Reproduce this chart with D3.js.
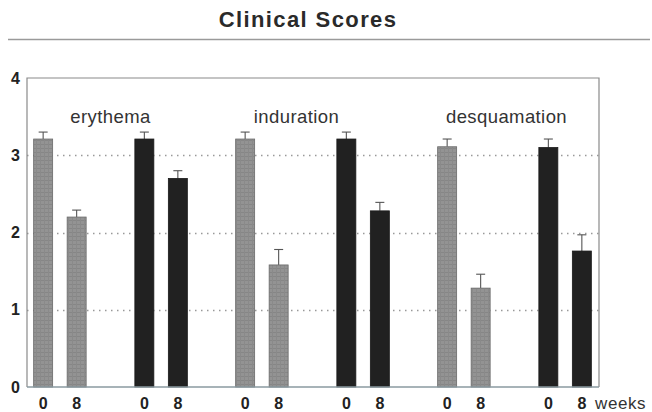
<!DOCTYPE html>
<html>
<head>
<meta charset="utf-8">
<script src="https://cdn.jsdelivr.net/npm/d3@7"></script>
<style>
  html, body { margin: 0; padding: 0; background: #fff; }
  svg { display: block; font-family: "Liberation Sans", Arial, Helvetica, sans-serif; }
</style>
</head>
<body>
<svg id="chart" width="652" height="412"></svg>
<script>
// ---- data ----
const categories = ["erythema", "induration", "desquamation"];
const treatments = ["A", "B"];          // grey bars, black bars
const weeks = ["0", "8"];
const yTicks = [0, 1, 2, 3, 4];
const title = "Clinical Scores";
const weeksLabel = "weeks";

// mean scores per category (erythema, induration, desquamation)
const meansA0 = [3.21, 3.21, 3.11];
const meansA8 = [2.20, 1.58, 1.28];
const meansB0 = [3.21, 3.21, 3.10];
const meansB8 = [2.70, 2.28, 1.76];
// error (upper whisker length)
const errA0 = [0.09, 0.09, 0.10];
const errA8 = [0.09, 0.20, 0.18];
const errB0 = [0.09, 0.09, 0.11];
const errB8 = [0.10, 0.11, 0.21];

// ---- build records ----
const meanTable = { A: { "0": meansA0, "8": meansA8 }, B: { "0": meansB0, "8": meansB8 } };
const errTable  = { A: { "0": errA0,   "8": errA8   }, B: { "0": errB0,   "8": errB8   } };
const records = [];
categories.forEach((c, i) => treatments.forEach(t => weeks.forEach(w => {
  records.push({ cat: c, trt: t, week: w, mean: meanTable[t][w][i], err: errTable[t][w][i] });
})));

// ---- layout ----
const svg = d3.select("#chart");
const plot = { left: 27, right: 599, top: 78, bottom: 387 };

const y = d3.scaleLinear().domain([0, 4]).range([plot.bottom, plot.top]);
const xGroup = d3.scalePoint().domain(categories).range([110.5, 514.5]);
const xTrt = d3.scalePoint().domain(treatments).range([-50.6, 50.6]);
const xWeek = d3.scalePoint().domain(weeks).range([-16.75, 16.75]);
const barW = 19;
const cx = d => xGroup(d.cat) + xTrt(d.trt) + xWeek(d.week);

// texture pattern for grey bars
const defs = svg.append("defs");
const pat = defs.append("pattern").attr("id", "greyTex")
  .attr("width", 4).attr("height", 4).attr("patternUnits", "userSpaceOnUse");
pat.append("rect").attr("width", 4).attr("height", 4).attr("fill", "#939393");
pat.append("rect").attr("width", 4).attr("height", 1).attr("fill", "#868686");
pat.append("rect").attr("width", 1).attr("height", 4).attr("fill", "#8a8a8a");

// title and rule
svg.append("text").attr("x", 308).attr("y", 27)
  .attr("text-anchor", "middle").attr("font-size", 22).attr("font-weight", "bold")
  .attr("letter-spacing", 1.4).attr("fill", "#2a2a2a").text(title);
svg.append("line").attr("x1", 8).attr("x2", 650).attr("y1", 39.5).attr("y2", 39.5)
  .attr("stroke", "#9a9a9a").attr("stroke-width", 1.6);

// gridlines
svg.append("g").selectAll("line").data(yTicks.filter(v => v > 0 && v < 4)).join("line")
  .attr("x1", plot.left).attr("x2", plot.right)
  .attr("y1", d => Math.round(y(d)) + 0.5).attr("y2", d => Math.round(y(d)) + 0.5)
  .attr("stroke", "#999").attr("stroke-width", 1.3).attr("stroke-dasharray", "1.5,4.5");

// frame: top, right, left
const frame = svg.append("g").attr("stroke", "#8a8a8a").attr("stroke-width", 1.2).attr("fill", "none");
frame.append("path").attr("d", `M${plot.left},${plot.bottom} V${y(4)} H${plot.right} V${plot.bottom}`);

// y axis labels
const yAxis = d3.axisLeft(y).tickValues(yTicks).tickSize(0).tickPadding(7).tickFormat(d3.format("d"));
const gy = svg.append("g").attr("transform", `translate(${plot.left},0)`).call(yAxis);
gy.select(".domain").remove();
gy.selectAll("text").attr("font-size", 16).attr("font-weight", "bold").attr("fill", "#222")
  .attr("font-family", "'Liberation Sans', Arial, sans-serif");

// error bars
const eb = svg.append("g").attr("stroke", "#555").attr("stroke-width", 1.1);
eb.selectAll("line.stem").data(records).join("line").attr("class", "stem")
  .attr("x1", d => cx(d)).attr("x2", d => cx(d))
  .attr("y1", d => y(d.mean)).attr("y2", d => y(d.mean + d.err));
eb.selectAll("line.cap").data(records).join("line").attr("class", "cap")
  .attr("x1", d => cx(d) - 4.5).attr("x2", d => cx(d) + 4.5)
  .attr("y1", d => y(d.mean + d.err)).attr("y2", d => y(d.mean + d.err));

// bars
svg.append("g").selectAll("rect").data(records).join("rect")
  .attr("x", d => cx(d) - barW / 2).attr("width", barW)
  .attr("y", d => y(d.mean)).attr("height", d => y(0) - y(d.mean))
  .attr("fill", d => d.trt === "A" ? "url(#greyTex)" : "#212121")
  .attr("stroke", d => d.trt === "A" ? "#6a6a6a" : "#1a1a1a").attr("stroke-width", 0.8);

// bottom axis
const xAxis = svg.append("g");
xAxis.append("line").attr("x1", plot.left).attr("x2", plot.right)
  .attr("y1", plot.bottom).attr("y2", plot.bottom)
  .attr("stroke", "#8a9aa0").attr("stroke-width", 1.3);
xAxis.selectAll("text").data(records).join("text")
  .attr("x", d => cx(d)).attr("y", 408.5).attr("text-anchor", "middle")
  .attr("font-size", 16).attr("font-weight", "bold").attr("fill", "#222")
  .text(d => d.week);
svg.append("text").attr("x", 595).attr("y", 408.5).attr("font-size", 17)
  .attr("letter-spacing", 0.6).attr("fill", "#333").text(weeksLabel);

// category labels
const labelShift = [0, -16, -8];
svg.append("g").selectAll("text").data(categories).join("text")
  .attr("x", (d, i) => xGroup(d) + labelShift[i]).attr("y", 123)
  .attr("text-anchor", "middle").attr("font-size", 18.5).attr("letter-spacing", 0.4)
  .attr("fill", "#333").text(d => d);
</script>
</body>
</html>
